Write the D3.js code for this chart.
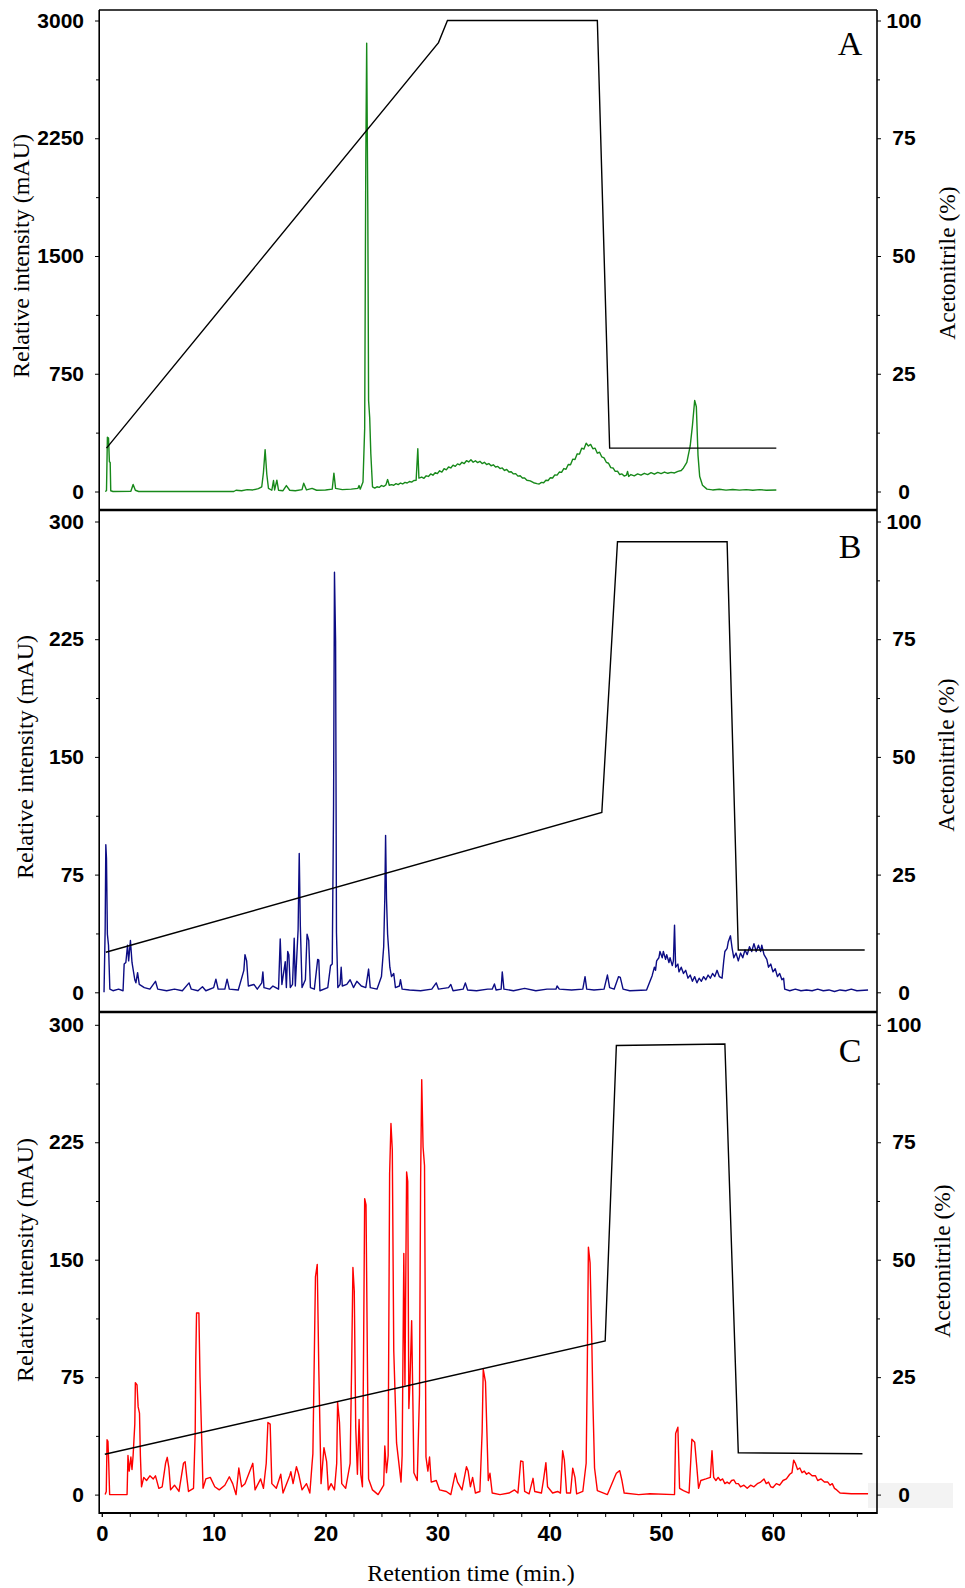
<!DOCTYPE html>
<html>
<head>
<meta charset="utf-8">
<script src="https://cdn.jsdelivr.net/npm/d3@7"></script>
<style>
body { margin: 0; background: #fff; }
.tick text { font-family: "Liberation Sans", Arial, sans-serif; font-weight: bold; fill: #000; }
.title { font-family: "Liberation Serif", "Times New Roman", serif; fill: #000; }
</style>
</head>
<body>
<svg width="965" height="1588"></svg>
<script>
// chromatogram traces, [retention time (min), intensity (mAU)]
var traceA = [
  [0.3,0],[0.42,5],[0.5,346],[0.6,340],[0.68,190],[0.75,185],[0.8,5],[1.0,0],[2.6,2],[2.8,45],[3.0,8],[3.3,0],
  [11.8,0],[12.0,8],[12.5,5],[13.0,12],[13.5,10],[14.0,18],[14.3,30],[14.45,120],[14.6,267],[14.75,110],[14.9,20],
  [15.2,8],[15.35,70],[15.45,10],[15.65,72],[15.8,8],[16.2,5],[16.5,38],[16.8,8],[17.3,5],[17.9,12],[18.05,53],
  [18.3,10],[18.8,20],[19.2,8],[20.0,10],[20.6,15],[20.75,117],[20.9,20],[21.5,12],[22.3,15],[22.9,20],[23.0,38],
  [23.1,15],[23.35,60],[23.5,400],[23.6,2100],[23.68,2856],[23.78,1800],[23.85,580],[23.95,470],[24.05,240],
  [24.2,30],[24.4,22],[24.6,30],[24.8,26],[25.0,38],[25.2,32],[25.4,42],[25.55,76],[25.7,40],[25.9,44],[26.1,40],
  [26.3,50],[26.5,44],[26.7,54],[26.9,48],[27.1,58],[27.3,54],[27.5,64],[27.7,60],[27.9,70],[28.1,72],[28.25,272],
  [28.35,85],[28.6,92],[28.8,84],[29.0,100],[29.2,96],[29.4,112],[29.6,104],[29.8,120],[30.0,114],[30.2,132],
  [30.4,124],[30.6,145],[30.8,138],[31.0,156],[31.2,150],[31.4,168],[31.6,160],[31.8,176],[32.0,170],[32.2,186],
  [32.4,178],[32.6,196],[32.8,188],[33.0,202],[33.2,186],[33.4,196],[33.6,184],[33.8,192],[34.0,178],[34.2,186],
  [34.4,172],[34.6,178],[34.8,164],[35.0,170],[35.2,156],[35.4,160],[35.6,146],[35.8,150],[36.0,134],[36.2,140],
  [36.4,124],[36.6,126],[36.8,112],[37.0,114],[37.2,98],[37.4,100],[37.6,86],[37.8,86],[38.0,72],[38.3,68],
  [38.6,56],[38.9,50],[39.1,48],[39.3,58],[39.5,56],[39.7,72],[39.9,70],[40.1,88],[40.3,86],[40.5,106],[40.7,104],
  [40.9,124],[41.1,122],[41.3,146],[41.5,142],[41.7,172],[41.9,170],[42.1,206],[42.3,204],[42.5,240],[42.7,238],
  [42.9,276],[43.1,270],[43.3,308],[43.5,290],[43.7,300],[43.9,272],[44.1,276],[44.3,244],[44.5,250],[44.7,220],
  [44.9,214],[45.1,186],[45.3,180],[45.5,152],[45.7,150],[45.9,128],[46.1,130],[46.3,108],[46.5,112],[46.7,98],
  [46.9,104],[47.0,128],[47.1,96],[47.3,108],[47.6,100],[47.9,112],[48.2,104],[48.5,116],[48.8,108],[49.1,120],
  [49.4,110],[49.7,122],[50.0,114],[50.3,124],[50.6,116],[50.9,122],[51.2,118],[51.5,128],[51.8,134],[52.0,150],
  [52.3,185],[52.6,290],[52.8,420],[53.0,580],[53.15,540],[53.3,230],[53.45,95],[53.7,40],[54.1,15],[54.6,10],
  [55.2,14],[55.8,9],[56.4,13],[57,9],[57.6,12],[58.2,8],[58.8,12],[59.4,8],[60.3,10]
];
var traceB = [
  [0.2,0],[0.3,40],[0.36,94],[0.42,85],[0.5,37],[0.6,30],[0.72,2],[1.0,1],[1.5,2],[1.9,1],[2.0,18],[2.15,19],[2.3,30],
  [2.4,20],[2.56,33],[2.7,19],[2.95,8],[3.05,6],[3.2,12.5],[3.35,5],[3.8,3],[4.3,2],[4.8,7],[5.0,2],[5.8,1],[6.5,2],
  [7.2,1],[7.8,6],[8.0,2],[8.6,1],[9.0,3.5],[9.3,1],[10.0,3],[10.2,8.4],[10.4,2],[11.0,2],[11.2,8.4],[11.4,2],
  [12.2,1.5],[12.7,14],[12.8,24],[12.95,20],[13.1,4],[13.6,5],[13.9,2],[14.3,6],[14.4,13],[14.5,3],[15.0,2],[15.3,4],
  [15.8,2],[15.95,34],[16.1,5],[16.4,19.5],[16.5,3],[16.62,26],[16.72,24],[16.85,3],[17.05,5],[17.2,34.4],[17.3,4],
  [17.55,40],[17.65,88.5],[17.75,42],[17.9,3],[18.2,8],[18.35,37],[18.5,33],[18.65,3],[19.0,2],[19.3,21],[19.4,20.5],
  [19.5,1],[20.2,3],[20.45,17],[20.6,18],[20.72,120],[20.8,267.7],[20.9,224],[20.98,38],[21.1,3],[21.3,5],[21.4,16],
  [21.5,4],[21.9,5],[22.2,8],[22.5,3],[22.8,7],[23.2,4],[23.6,3],[23.85,14.8],[24.0,3],[24.6,2],[25.0,10],[25.2,29],
  [25.3,60],[25.37,100],[25.45,60],[25.55,37],[25.75,16],[25.9,10],[26.1,12],[26.25,3],[26.6,4],[26.7,8],[26.85,2],
  [27.5,1.5],[28.5,1],[29.5,2],[29.9,6],[30.1,2],[31.0,3],[31.2,5],[31.4,1],[32.3,2],[32.5,6],[32.7,1.5],[33.5,1],
  [34.5,2],[34.9,2],[35.1,5.3],[35.25,1.5],[35.7,2],[35.8,13],[35.95,2],[36.8,1],[37.8,2.5],[38.8,1],[39.8,2],
  [40.6,2],[40.7,4],[40.9,2],[42,1.5],[43.0,2],[43.2,10],[43.35,2],[44.0,1.5],[44.9,2],[45.2,11],[45.4,3],[45.8,2],
  [46.2,10],[46.35,9.5],[46.6,2],[47.2,1],[48.7,1.5],[49.2,10.6],[49.4,16],[49.5,14],[49.6,20],[49.8,22],[49.9,26],
  [50.1,22],[50.2,26],[50.4,21],[50.5,24],[50.7,19],[50.8,22],[51.0,17],[51.1,20],[51.2,42.8],[51.3,16],[51.5,18],
  [51.6,13],[51.8,16],[52.0,12],[52.2,14],[52.4,9],[52.6,11],[52.8,7],[53.0,10],[53.2,6],[53.4,9],[53.6,7],[53.8,10],
  [54.0,8],[54.2,11],[54.4,9],[54.6,12],[54.8,10],[55.0,14],[55.2,10],[55.45,9],[55.6,20],[55.7,26],[55.9,28],
  [56.0,32],[56.2,36],[56.35,28],[56.5,22],[56.7,25],[56.9,20],[57.1,25],[57.3,22],[57.5,27],[57.7,24],[57.9,29],
  [58.1,26],[58.3,31],[58.5,26],[58.7,30],[58.9,26],[59.0,30],[59.2,24],[59.45,21],[59.6,16],[59.8,18],[60.0,13],
  [60.2,15],[60.4,10],[60.6,12],[60.8,8],[60.95,9],[61.05,2],[61.5,1],[62,2],[62.5,1],[63,1.5],[63.5,1],[64,2],
  [64.5,1],[65,1.5],[65.5,0.5],[66,1.5],[66.5,1],[67,2],[67.5,1],[68.5,1.5]
];
var traceC = [
  [0.3,0],[0.4,2],[0.47,35],[0.55,34],[0.62,20],[0.7,0],[2.26,0],[2.34,25],[2.45,15],[2.6,24],[2.7,16],[2.8,25],
  [2.95,45],[3.0,71.5],[3.15,70],[3.25,56],[3.37,52],[3.45,25],[3.55,5],[3.75,11],[4.0,9],[4.3,12],[4.6,10],[4.8,12],
  [5.1,4],[5.4,5],[5.7,20],[5.85,23.8],[6.0,17],[6.15,3],[6.5,6],[6.9,2],[7.3,20],[7.45,21],[7.6,11],[7.75,2],[8.2,4],
  [8.35,40],[8.4,86],[8.47,116],[8.68,116],[8.78,75],[8.95,31],[9.05,4],[9.3,10],[9.7,11],[10.1,5],[10.5,3],[11.0,6],
  [11.4,11.4],[11.7,7],[12.0,0],[12.25,17],[12.5,5],[12.8,7],[13.5,20],[13.7,3],[14.2,10],[14.45,4],[14.7,20],
  [14.85,46],[15.05,45],[15.2,7],[15.6,4],[16.0,13],[16.2,1],[16.8,12],[16.9,14.6],[17.1,7],[17.4,17.8],[17.6,13],
  [17.9,3],[18.3,7],[18.6,1],[18.8,20],[18.87,26],[19.1,139],[19.26,147],[19.4,80],[19.6,7],[19.86,30],[20.1,21],
  [20.25,3],[20.5,7],[20.8,3],[21.0,20],[21.08,59],[21.25,46],[21.45,7],[21.8,4],[22.2,20],[22.33,80],[22.45,145],
  [22.57,130],[22.7,43],[22.85,13],[23.0,48],[23.15,13],[23.3,5],[23.4,90],[23.5,189],[23.62,185],[23.75,80],
  [23.85,10],[24.2,3],[24.7,0],[25.2,6],[25.3,31],[25.45,14],[25.6,25],[25.73,205],[25.85,237],[25.97,220],[26.1,92],
  [26.35,33],[26.75,8],[26.85,25],[27.0,154],[27.1,70],[27.25,206],[27.35,200],[27.45,55],[27.55,72],[27.7,111],
  [27.8,64],[27.9,14],[28.2,9],[28.4,64],[28.5,200],[28.6,265],[28.72,222],[28.85,210],[28.98,24],[29.15,15],
  [29.3,24],[29.45,8],[29.9,9],[30.2,3],[30.8,2],[31.2,0],[31.6,13.6],[31.8,8],[32.2,3],[32.6,17.8],[32.75,15],
  [32.95,5],[33.15,11],[33.4,1],[33.8,2],[34.0,40],[34.1,80],[34.3,72],[34.55,9],[34.7,13.6],[34.9,1],[35.6,0],
  [36.4,1],[36.9,3],[37.2,1],[37.45,21.5],[37.65,21],[37.8,2],[38.2,0.5],[38.55,10.4],[38.7,2],[39.3,1],[39.5,10],
  [39.7,20.4],[39.85,5],[40.3,1],[40.75,2],[41.0,1],[41.2,28],[41.35,22],[41.55,1],[41.9,1],[42.1,16.8],[42.3,11],
  [42.45,0.5],[43.0,2],[43.3,20],[43.4,80],[43.5,158],[43.65,148],[43.8,100],[43.9,60],[44.05,17],[44.3,2.5],
  [45.2,0],[45.9,12],[46.0,13.6],[46.3,15.3],[46.5,9],[46.7,1],[48,0],[49,0.5],[51.2,0],[51.3,39],[51.5,43],
  [51.65,4],[52.0,2.5],[52.5,1],[52.75,35.3],[53.0,33.5],[53.2,17],[53.35,4],[53.55,9],[54.0,10],[54.4,11],
  [54.55,28],[54.7,11],[54.9,9],[55.1,11],[55.3,9],[55.5,10],[55.7,7],[55.9,8],[56.1,7],[56.3,9],[56.5,9.4],
  [56.7,7],[56.9,7],[57.1,5],[57.4,6],[57.7,4],[58.0,6],[58.3,5],[58.6,7],[58.9,8],[59.2,10],[59.4,7],[59.6,8],
  [59.8,5],[60.0,4.5],[60.3,7],[60.6,6],[60.9,9],[61.2,10],[61.5,13],[61.7,14],[61.85,22],[62.0,20],[62.2,16],
  [62.4,17],[62.6,14],[62.8,15],[63.0,13],[63.2,14],[63.5,12],[63.8,12],[64.0,9],[64.3,10],[64.6,8],[64.9,8],
  [65.1,6],[65.3,7],[65.5,4],[65.7,3],[66.0,1],[67,0.5],[68.5,0.5]
];

// acetonitrile gradient, [time (min), %]
var gradA = [[0.42,9.2],[30.1,95.3],[30.9,100],[44.3,100],[45.4,9.2],[60.3,9.2]];
var gradB = [[0.36,8.5],[44.7,38.2],[46.1,95.7],[55.9,95.7],[56.9,9.0],[68.2,9.0]];
var gradC = [[0.27,8.6],[45.0,32.7],[46.0,95.6],[55.7,95.9],[56.9,8.9],[68.0,8.7]];

var ticksA = [0, 750, 1500, 2250, 3000];
var ticksBC = [0, 75, 150, 225, 300];
var ticksPct = [0, 25, 50, 75, 100];
var ticksTime = [0, 10, 20, 30, 40, 50, 60];
var panelNames = ["A", "B", "C"];

var svg = d3.select("svg");

var x = d3.scaleLinear().domain([-0.25, 69.3]).range([99, 877]);

var panels = [
  {name: panelNames[0], trace: traceA, grad: gradA, ticks: ticksA, color: "#17891a",
   top: 10, bottom: 510, y0: 491.5, y1: 20.5, ly: 256, ry: 263, lx: 29, rx: 955, letterY: 55},
  {name: panelNames[1], trace: traceB, grad: gradB, ticks: ticksBC, color: "#0c0c84",
   top: 510, bottom: 1012, y0: 992.3, y1: 521.5, ly: 757, ry: 755, lx: 33, rx: 954, letterY: 558},
  {name: panelNames[2], trace: traceC, grad: gradC, ticks: ticksBC, color: "#ff0000",
   top: 1012, bottom: 1513, y0: 1494.6, y1: 1024.8, ly: 1260, ry: 1261, lx: 33, rx: 950, letterY: 1062}
];

// faint box behind the last right-hand label
svg.append("rect").attr("x", 868).attr("y", 1483).attr("width", 85).attr("height", 25).attr("fill", "#f3f3f3");

panels.forEach(function(p) {
  var yMax = p.ticks[p.ticks.length - 1];
  var y = d3.scaleLinear().domain([0, yMax]).range([p.y0, p.y1]);
  var yr = d3.scaleLinear().domain([0, 100]).range([p.y0, p.y1]);
  var minor = p.ticks.slice(1).map(function(d, i) { return (d + p.ticks[i]) / 2; });
  var minorPct = ticksPct.slice(1).map(function(d, i) { return (d + ticksPct[i]) / 2; });

  var g = svg.append("g").attr("class", "panel");

  g.append("path")
    .datum(p.trace)
    .attr("fill", "none")
    .attr("stroke", p.color)
    .attr("stroke-width", 1.4)
    .attr("stroke-linejoin", "round")
    .attr("d", d3.line().x(function(d) { return x(d[0]); }).y(function(d) { return y(d[1]); }));

  g.append("path")
    .datum(p.grad)
    .attr("fill", "none")
    .attr("stroke", "#000")
    .attr("stroke-width", 1.4)
    .attr("d", d3.line().x(function(d) { return x(d[0]); }).y(function(d) { return yr(d[1]); }));

  // left axis
  var la = g.append("g").attr("transform", "translate(99,0)")
    .call(d3.axisLeft(y).tickValues(p.ticks).tickSize(4).tickPadding(11).tickFormat(d3.format("d")));
  la.select(".domain").remove();
  la.selectAll("text").style("font-size", "21px");
  var lm = g.append("g").attr("transform", "translate(99,0)")
    .call(d3.axisLeft(y).tickValues(minor).tickSize(3).tickFormat(""));
  lm.select(".domain").remove();

  // right axis
  var ra = g.append("g").attr("transform", "translate(877,0)")
    .call(d3.axisRight(yr).tickValues(ticksPct).tickSize(4).tickFormat(d3.format("d")));
  ra.select(".domain").remove();
  ra.selectAll("text").attr("x", 27).attr("text-anchor", "middle").style("font-size", "21px");
  var rm = g.append("g").attr("transform", "translate(877,0)")
    .call(d3.axisRight(yr).tickValues(minorPct).tickSize(3).tickFormat(""));
  rm.select(".domain").remove();

  g.append("text").attr("class", "title")
    .attr("transform", "translate(" + p.lx + "," + p.ly + ") rotate(-90)")
    .attr("text-anchor", "middle").style("font-size", "24px")
    .text("Relative intensity (mAU)");

  g.append("text").attr("class", "title")
    .attr("transform", "translate(" + p.rx + "," + p.ry + ") rotate(-90)")
    .attr("text-anchor", "middle").style("font-size", "23.5px")
    .text("Acetonitrile (%)");

  g.append("text").attr("class", "title")
    .attr("x", 850).attr("y", p.letterY)
    .attr("text-anchor", "middle").style("font-size", "34px")
    .text(p.name);

  // separator line under the panel
  g.append("line")
    .attr("x1", 99).attr("x2", 877).attr("y1", p.bottom).attr("y2", p.bottom)
    .attr("stroke", "#000").attr("stroke-width", p.name === "C" ? 2 : 2.6);
});

// frame
svg.append("line").attr("x1", 99).attr("x2", 877).attr("y1", 10).attr("y2", 10)
  .attr("stroke", "#000").attr("stroke-width", 1.3);
svg.append("line").attr("x1", 99.2).attr("x2", 99.2).attr("y1", 10).attr("y2", 1514)
  .attr("stroke", "#000").attr("stroke-width", 1.6);
svg.append("line").attr("x1", 877).attr("x2", 877).attr("y1", 10).attr("y2", 1514)
  .attr("stroke", "#000").attr("stroke-width", 1.6);

// time axis
var minorTime = d3.range(0, 69, 2.5);
var xa = svg.append("g").attr("transform", "translate(0,1513)")
  .call(d3.axisBottom(x).tickValues(ticksTime).tickSize(4).tickPadding(8).tickFormat(d3.format("d")));
xa.select(".domain").remove();
xa.selectAll("text").style("font-size", "22px");
var xm = svg.append("g").attr("transform", "translate(0,1513)")
  .call(d3.axisBottom(x).tickValues(minorTime).tickSize(4).tickFormat(""));
xm.select(".domain").remove();

svg.append("text").attr("class", "title")
  .attr("x", 471).attr("y", 1581)
  .attr("text-anchor", "middle").style("font-size", "24px")
  .text("Retention time (min.)");
</script>
</body>
</html>
